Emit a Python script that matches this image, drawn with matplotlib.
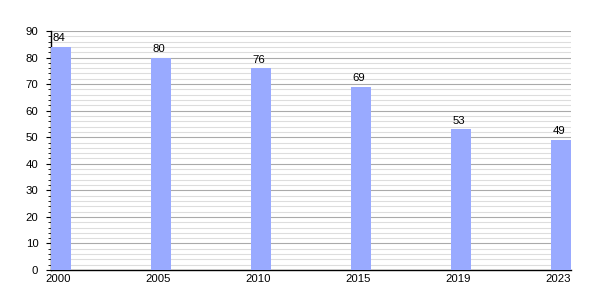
import matplotlib
matplotlib.use("Agg")
import matplotlib.pyplot as plt
from matplotlib.ticker import MultipleLocator

years = ["2000", "2005", "2010", "2015", "2019", "2023"]
values = [84, 80, 76, 69, 53, 49]

plt.rcParams['font.family'] = ['Liberation Sans', 'DejaVu Sans']
fig = plt.figure(figsize=(6, 3), dpi=100)
ax = fig.add_axes([51/600, 30/300, 520/600, 239/300])

pos = list(range(len(years)))
bw = 0.2
bars = ax.bar(pos, values, width=bw, align='edge', color='#99aaff', zorder=3)
for p, v in zip(pos, values):
    ax.text(p + 0.08, v + 1.3, str(v), ha='center', va='bottom', fontsize=8.2, zorder=4)

ax.set_xlim(0, 5.2)
ax.set_ylim(0, 90)
ax.set_xticks([p + 0.075 for p in pos])
ax.set_xticklabels(years, fontsize=8.2)
ax.tick_params(axis='x', length=0, pad=3)
ax.yaxis.set_major_locator(MultipleLocator(10))
ax.yaxis.set_minor_locator(MultipleLocator(2))
ax.tick_params(axis='y', which='major', length=3.6, labelsize=8.2, pad=5.5)
ax.tick_params(axis='y', which='minor', length=2.2)
ax.grid(axis='y', which='major', color='#aaaaaa', linewidth=0.8, zorder=0)
ax.grid(axis='y', which='minor', color='#dddddd', linewidth=0.8, zorder=0)
for s in ['top', 'right']:
    ax.spines[s].set_visible(False)
ax.spines['left'].set_linewidth(1)
ax.spines['bottom'].set_linewidth(1)

fig.savefig("out.png", dpi=100)
